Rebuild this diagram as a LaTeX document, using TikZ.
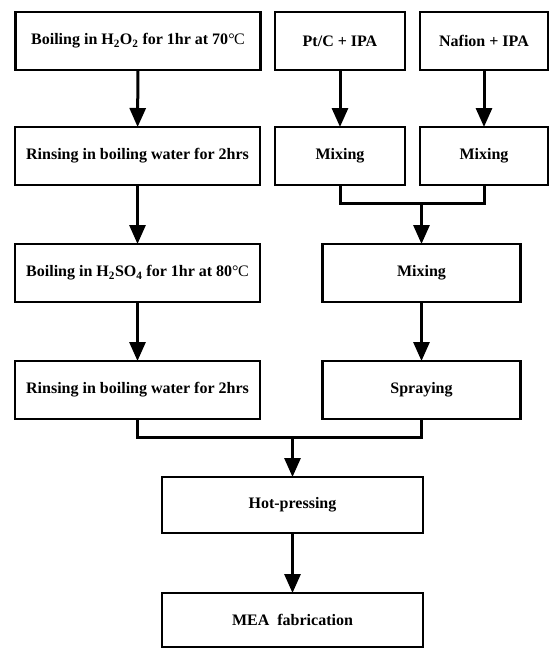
\documentclass[tikz,border=0pt]{standalone}
\usepackage{fontspec}
\setmainfont{Liberation Serif}
\usetikzlibrary{arrows.meta,positioning}
\tikzset{
  >             = {Triangle[length=19pt,width=16pt]},
  feed/.style   = {<-, line width=3pt},
  merge/.style  = {line width=3pt},
  stage/.style  = {draw, rectangle, line width=2.4pt, inner sep=0pt, outer sep=0pt,
                   minimum height=58pt, font=\bfseries\fontsize{16}{18}\selectfont},
  wide/.style   = {stage, minimum width=245pt},
  narrow/.style = {stage, minimum width=130pt},
  mid/.style    = {stage, minimum width=198pt},
  low/.style    = {stage, minimum width=261pt}
}
\newcommand{\degC}{{\mdseries\textdegree\kern-0.5pt C}}

\begin{document}
\begin{tikzpicture}[x=1pt, y=-1pt]
      \useasboundingbox (0,0) rectangle (549,649);
      \node[wide] (boil1) at (138,41) {Boiling in H\textsubscript{2}O\textsubscript{2} for 1hr at 70\degC};
      \node[narrow] (ptc) at (340,41) {Pt/C + IPA};
      \node[narrow, minimum width=128pt] (naf) at (484,41) {Nafion + IPA};
      \node[wide] (rinse1) at (137.5,156) {Rinsing in boiling water for 2hrs}
      edge [feed] (boil1);
      \node[narrow] (mix1) at (340,156) {Mixing}
      edge [feed] (ptc);
      \node[narrow, minimum width=128pt] (mix2) at (484,156) {Mixing}
      edge [feed] (naf);
      \coordinate (mixjoin) at (421.5,203);
      \draw[merge] (mix1) |- (mixjoin) -| (mix2);
      \node[wide] (boil2) at (137.5,273) {Boiling in H\textsubscript{2}SO\textsubscript{4} for 1hr at 80\degC}
      edge [feed] (rinse1);
      \node[mid] (mix3) at (421.5,273) {Mixing}
      edge [feed] (mixjoin);
      \node[wide] (rinse2) at (137.5,390) {Rinsing in boiling water for 2hrs}
      edge [feed] (boil2);
      \node[mid] (spray) at (421.5,390) {Spraying}
      edge [feed] (mix3);
      \coordinate (pressjoin) at (292.5,437);
      \draw[merge] (rinse2) |- (pressjoin) -| (spray);
      \node[low, minimum height=56pt] (press) at (292.5,505) {Hot-pressing}
      edge [feed] (pressjoin);
      \node[low, minimum height=54pt] (mea) at (292.5,620) {MEA\enspace fabrication}
      edge [feed] (press);
    \end{tikzpicture}
\end{document}
